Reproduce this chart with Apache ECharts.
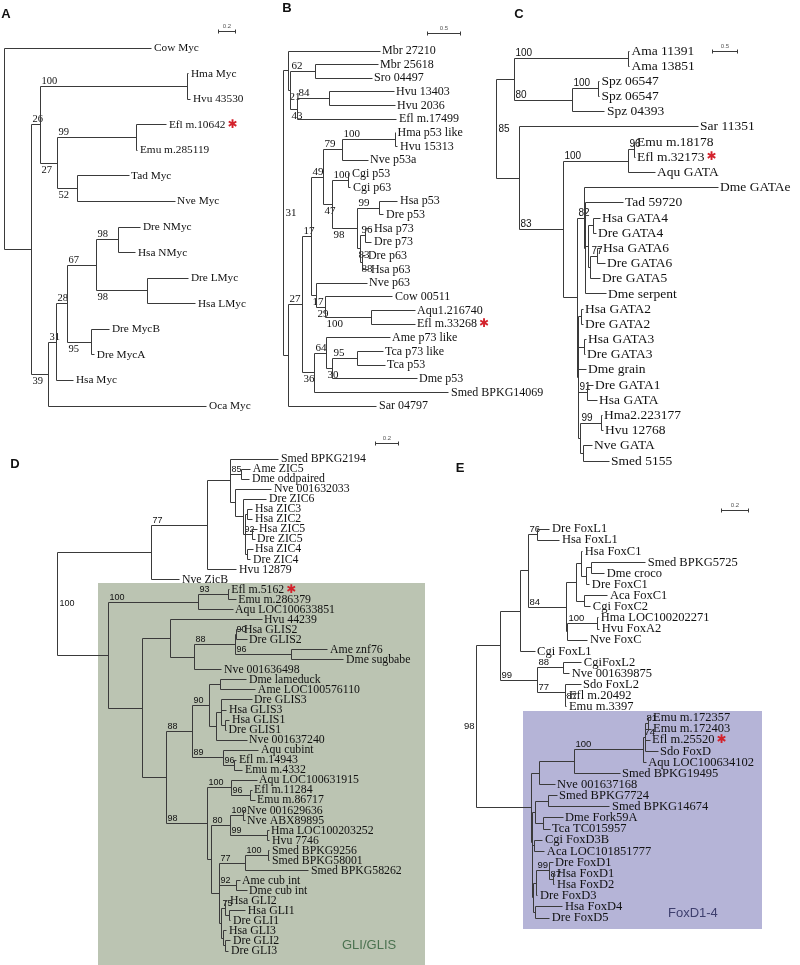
<!DOCTYPE html>
<html>
<head>
<meta charset="utf-8">
<script src="https://cdn.jsdelivr.net/npm/echarts@6/dist/echarts.min.js"></script>
<style>
html, body { margin: 0; padding: 0; background: #fff; }
#chart { width: 800px; height: 965px; }
</style>
</head>
<body>
<div id="chart"></div>
<script>
// ---- tree data (Newick, branch lengths in substitutions/site, internal labels = bootstrap) ----
// A: Myc
const treeA = '(Cow Myc:1.741,(((Hma Myc:0.012,Hvu 43530:0.035)100:1.729,((Efl m.10642*:0.353,Emu m.285119:0.012)99:0.929,(Tad Myc:0.612,Nve Myc:1.153)52:0.224)27:0.2)26:0.106,(((((Dre NMyc:0.259,Hsa NMyc:0.2)98:0.259,(Dre LMyc:0.482,Hsa LMyc:0.565)98:0.6)67:0.341,(Dre MycB:0.212,Dre MycA:0.035)95:0.282)28:0.129,Hsa Myc:0.2)31:0.094,Oca Myc:1.859)39:0.2):0.329);'

// B: p53
const p53Top = '(Mbr 27210:1.394,((Mbr 25618:0.955,Sro 04497:0.864)62:0.364,((Hvu 13403:0.97,Hvu 2036:0.985)84:0.485,Efl m.17499:1.5)43:0.106)21:0.045)'
const p53Core = '(((Hma p53 like:0.008,Hvu 15313:0.045)100:0.803,Nve p53a:0.394)79:0.273,((Cgi p53:0.015,Cgi p63:0.03)100:0.242,((Hsa p53:0.273,Dre p53:0.061)99:0.333,((Hsa p73:0.091,Dre p73:0.091)96:0.076,(Dre p63:0.045,Hsa p63:0.091)88:0.03)83:0.045)98:0.379)47:0.136)49'
const p53Mid = '(Nve p63:0.758,(Cow 00511:1.015,(Aqu1.216740:0.652,Efl m.33268*:0.652)100:0.697)29:0.136)17'
const p53Low = '((Ame p73 like:0.97,((Tca p73 like:0.394,Tca p53:0.424)95:0.379,Dme p53:1.288)30:0.091)64:0.182,Smed BPKG14069:2.045)36'
const treeB = `(${p53Top}:0.076,(((${p53Core}:0.182,${p53Mid}:0.076)17:0.136,${p53Low}:0.167)27:0.227,Sar 04797:1.348):0.076)31;`

// C: GATA
const gataOut = '((Ama 11391:0.01,Ama 13851:0.01)100:2.253,((Spz 06547:0.01,Spz 06547:0.01)100:0.514,Spz 04393:0.632)80:1.146)'
const gataA = '(Dme GATAe:2.648,(Tad 59720:0.751,((Hsa GATA4:0.138,Dre GATA4:0.059):0.099,((Hsa GATA6:0.079,Dre GATA6:0.158)77:0.138,Dre GATA5:0.198):0.04):0.059,Dme serpent:0.415):0.02)82'
const gataB = '((Hsa GATA2:0.04,Dre GATA2:0.04):0.059,(Hsa GATA3:0.04,Dre GATA3:0.02):0.119,Dme grain:0.158,(Dre GATA1:0.119,Hsa GATA:0.198)91:0.178,((Hma2.223177:0.02,Hvu 12768:0.04)99:0.415,(Nve GATA:0.178,Smed 5155:0.514):0.059):0.04)'
const treeC = `(${gataOut}:0.375,(Sar 11351:3.538,(((Emu m.18178:0.02,Efl m.32173*:0.02)96:0.119,Aqu GATA:0.534)100:1.285,(${gataA}:0.138,${gataB}:0.02):0.277)83:0.87):0.455)85;`

// D: ZIC / GLI / GLIS
const zicZ6 = '((Hsa ZIC3:0.043,Hsa ZIC2:0.043):0.017,(Hsa ZIC5:0.043,Dre ZIC5:0.026):0.052,(Hsa ZIC4:0.052,Dre ZIC4:0.034):0.009)92'
const zicClade = `(((Smed BPKG2194:0.412,(Ame ZIC5:0.077,Dme oddpaired:0.069)85:0.094,(Nve 001632033:0.309,(Dre ZIC6:0.197,${zicZ6}:0.017):0.069):0.043):0.197,Hvu 12879:0.249)77:0.481,Nve ZicB:0.24)`
const gliTop = '((Efl m.5162*:0.009,Emu m.286379:0.069)93:0.258,Aqu LOC100633851:0.3)100'
const glisA = '(Hvu 44239:0.79,(((Hsa GLIS2:0.043,Dre GLIS2:0.086)90:0.017,(Ame znf76:0.309,Dme sugbabe:0.446)96:0.489)88:0.352,Nve 001636498:0.24):0.206)'
const glisB = '(((Dme lameduck:0.223,Ame LOC100576110:0.3):0.094,((Dre GLIS3:0.258,Hsa GLIS3:0.043,(Hsa GLIS1:0.034,Dre GLIS1:0.005):0.034):0.043,Nve 001637240:0.258):0.06)90:0.146,(Aqu cubint:0.3,(Efl m.14943:0.017,Emu m.4332:0.069)96:0.094)89:0.266)88'
const gliC = '((Aqu LOC100631915:0.215,(Efl m.11284:0.017,Emu m.86717:0.043)96:0.155)100:0.206,(((Nve 001629636:0.017,Nve ABX89895:0.017)100:0.112,(Hma LOC100203252:0.009,Hvu 7746:0.017)99:0.326)80:0.155,(((Smed BPKG9256:0.009,Smed BPKG58001:0.009)100:0.197,Smed BPKG58262:0.541)77:0.223,(Ame cub int:0.026,Dme cub int:0.086)92:0.146,((Hsa GLI2:0.017,(Hsa GLI1:0.137,Dre GLI1:0.009):0.034)75:0.034,(Hsa GLI3:0.026,(Dre GLI2:0.043,Dre GLI3:0.026):0.017):0.017):0.017):0.069):0.034)98'
const treeD = `(${zicClade}:0.815,(${gliTop}:0.773,(${glisA}:0.232,(${glisB}:0.223,${gliC}:0.352):0.206):0.3):0.438)100;`

// E: Fox
const foxC = '(((Hsa FoxC1:0.007,((Smed BPKG5725:0.391,Dme croco:0.094):0.036,Dre FoxC1:0.022):0.036):0.036,(Aca FoxC1:0.167,Cgi FoxC2:0.043):0.058):0.072,((Hma LOC100202271:0.007,Hvu FoxA2:0.014)100:0.217,Nve FoxC:0.145):0.007)84'
const foxL = `(((Dre FoxL1:0.087,Hsa FoxL1:0.159)76:0.065,${foxC}:0.275):0.065,Cgi FoxL1:0.109)`
const foxL2 = '((CgiFoxL2:0.13,Nve 001639875:0.043)88:0.188,(Sdo FoxL2:0.116,(Efl m.20492:0.007,Emu m.3397:0.007)87:0.007)77:0.196)99'
const foxDa = '((((Emu m.172357:0.022,Emu m.172403:0.022)81:0.022,Efl m.25520*:0.036,Sdo FoxD:0.094)74:0.014,Aqu LOC100634102:0.022)100:0.5,Smed BPKG19495:0.333)'
const foxDb = '((Smed BPKG7724:0.065,Smed BPKG14674:0.449):0.094,(Dme Fork59A:0.145,Tca TC015957:0.051):0.058)'
const foxDc = '((Cgi FoxD3B:0.058,Aca LOC101851777:0.072):0.014,(((Dre FoxD1:0.022,(Hsa FoxD1:0.007,Hsa FoxD2:0.007)87:0.029)99:0.094,Dre FoxD3:0.007):0.022,(Hsa FoxD4:0.196,Dre FoxD5:0.101):0.014):0.007)'
const treeE = `((${foxL}:0.138,${foxL2}:0.268):0.181,((${foxDa}:0.254,Nve 001637168:0.116):0.058,(${foxDb}:0.022,${foxDc}:0.007):0.007):0.399)98;`

const trees = [treeA, treeB, treeC, treeD, treeE]
const panelLetters = ['A', 'B', 'C', 'D', 'E']
const scaleValues = [0.2, 0.5, 0.5, 0.2, 0.2]
const boxLabels = ['GLI/GLIS', 'FoxD1-4']

// ---- layout / style ----
const SERIF = '"Liberation Serif", "Times New Roman", serif'
const SANS = '"Liberation Sans", Arial, sans-serif'
const LINE = '#3a3a3a'
const layout = [
  {rootX: 4, top: 48, bottom: 406, ppu: 85, leafSize: 11.3, bootSize: 10.5, bootSans: false, mode: 'updown', rootSide: 'right', bar: [218, 31], letter: [6, 14]},
  {rootX: 283, top: 51, bottom: 406, ppu: 66, leafSize: 12, bootSize: 11, bootSans: false, mode: 'updown', rootSide: 'right', bar: [427, 33], letter: [287, 8]},
  {rootX: 496, top: 51, bottom: 461, ppu: 50.6, leafSize: 13.5, bootSize: 10, bootSans: true, mode: 'above', rootSide: 'right', bar: [712, 51], letter: [519, 14]},
  {rootX: 57, top: 459, bottom: 951, ppu: 116.5, leafSize: 11.8, bootSize: 9, bootSans: true, mode: 'above', rootSide: 'right', bar: [375, 443], letter: [15, 464]},
  {rootX: 476, top: 529, bottom: 918, ppu: 138, leafSize: 12.5, bootSize: 9.5, bootSans: true, mode: 'above', rootSide: 'left', bar: [721, 510], letter: [460, 468]}
]

function parseNewick(s) {
  let i = 0
  function node() {
    const n = {children: [], len: 0}
    if (s[i] === '(') {
      i++
      n.children.push(node())
      while (s[i] === ',') { i++; n.children.push(node()) }
      i++
    }
    let name = ''
    while (i < s.length && !',():;'.includes(s[i])) name += s[i++]
    n.name = name.trim()
    if (s[i] === ':') {
      i++
      let num = ''
      while (i < s.length && !',();'.includes(s[i])) num += s[i++]
      n.len = parseFloat(num)
    }
    return n
  }
  return node()
}

function layoutTree(root) {
  const nodes = []
  let leaves = 0
  let maxDepth = 0
  ;(function walk(n, parent) {
    n.parent = parent
    n.depth = parent ? parent.depth + n.len : 0
    maxDepth = Math.max(maxDepth, n.depth)
    nodes.push(n)
    if (!n.children.length) {
      n.y = leaves++
      n.star = n.name.endsWith('*')
      if (n.star) n.name = n.name.slice(0, -1)
    }
    n.children.forEach(c => walk(c, n))
    if (n.children.length) n.y = (n.children[0].y + n.children[n.children.length - 1].y) / 2
  })(root, null)
  return {nodes, leaves, maxDepth}
}

const crisp = v => Math.round(v - 0.5) + 0.5
const seg = (x1, y1, x2, y2) => ({type: 'line', shape: {x1, y1, x2, y2}, style: {stroke: LINE, lineWidth: 1}})

function makeRender(p, nodes, scaleValue) {
  const bootFamily = p.bootSans ? SANS : SERIF
  return function (params, api) {
    const n = nodes[params.dataIndex]
    const els = []
    const c = api.coord([n.depth, n.y])
    const x = crisp(c[0]), y = crisp(c[1])
    if (n.parent) {
      const px = crisp(api.coord([n.parent.depth, n.y])[0])
      els.push(seg(px, y, x, y))
      if (n.children.length && n.name) {
        const sib = n.parent.children
        const below = p.mode === 'updown' && sib.length > 1 && sib[sib.length - 1] === n
        els.push({type: 'text', style: {
          text: n.name, x: px + 1, y: below ? y + 1 : y,
          fontSize: p.bootSize, fontFamily: bootFamily, fill: '#111',
          align: 'left', verticalAlign: below ? 'top' : 'bottom'
        }})
      }
    } else if (n.name) {
      const left = p.rootSide === 'left'
      els.push({type: 'text', style: {
        text: n.name, x: left ? x - 2 : x + 2, y: c[1],
        fontSize: p.bootSize, fontFamily: bootFamily, fill: '#111',
        align: left ? 'right' : 'left', verticalAlign: 'middle'
      }})
    }
    if (n.children.length) {
      const a = crisp(api.coord([n.depth, n.children[0].y])[1])
      const b = crisp(api.coord([n.depth, n.children[n.children.length - 1].y])[1])
      els.push(seg(x, a, x, b))
    } else {
      const st = n.star
        ? {text: '{n|' + n.name + '}{s|\u2731}', rich: {
            n: {fontSize: p.leafSize, fontFamily: SERIF, fill: '#111'},
            s: {fontSize: 12, fontFamily: '"DejaVu Sans"', fill: '#d3222c', padding: [0, 0, 0, 2]}
          }}
        : {text: n.name, fontSize: p.leafSize, fontFamily: SERIF, fill: '#111'}
      st.x = c[0] + 2
      st.y = c[1]
      st.align = 'left'
      st.verticalAlign = 'middle'
      els.push({type: 'text', style: st})
    }
    if (params.dataIndex === 0) {
      // scale bar, length from the axis scale
      const len = api.size([scaleValue, 0])[0]
      const bx = crisp(p.bar[0]), by = crisp(p.bar[1]), ex = crisp(p.bar[0] + len)
      els.push(seg(bx, by, ex, by), seg(bx, by - 2, bx, by + 2), seg(ex, by - 2, ex, by + 2))
      els.push({type: 'text', style: {
        text: String(scaleValue), x: (bx + ex) / 2, y: by - 2,
        fontSize: 6, fontFamily: SANS, fill: '#555', align: 'center', verticalAlign: 'bottom'
      }})
    }
    return {type: 'group', children: els}
  }
}

const chart = echarts.init(document.getElementById('chart'))
const built = trees.map(t => layoutTree(parseNewick(t)))

const option = {
  animation: false,
  grid: layout.map((p, i) => ({
    left: p.rootX, top: p.top,
    width: built[i].maxDepth * p.ppu, height: p.bottom - p.top
  })),
  xAxis: layout.map((p, i) => ({type: 'value', gridIndex: i, min: 0, max: built[i].maxDepth, show: false})),
  yAxis: layout.map((p, i) => ({type: 'value', gridIndex: i, min: 0, max: built[i].leaves - 1, inverse: true, show: false})),
  graphic: [
    {type: 'rect', z: 0, shape: {x: 98, y: 583, width: 327, height: 382}, style: {fill: '#bbc4b2'}},
    {type: 'rect', z: 0, shape: {x: 523, y: 711, width: 239, height: 218}, style: {fill: '#b5b4d7'}},
    {type: 'text', z: 1, style: {text: boxLabels[0], x: 342, y: 945, fontSize: 13, fontFamily: SANS, fill: '#4b7250', verticalAlign: 'middle'}},
    {type: 'text', z: 1, style: {text: boxLabels[1], x: 668, y: 913, fontSize: 13, fontFamily: SANS, fill: '#3e3f6e', verticalAlign: 'middle'}}
  ].concat(layout.map((p, i) => ({
    type: 'text', z: 1,
    style: {text: panelLetters[i], x: p.letter[0], y: p.letter[1], fontSize: 13, fontWeight: 'bold', fontFamily: SANS, fill: '#111', align: 'center', verticalAlign: 'middle'}
  }))),
  series: layout.map((p, i) => ({
    type: 'custom',
    xAxisIndex: i,
    yAxisIndex: i,
    silent: true,
    clip: false,
    encode: {x: 0, y: 1},
    data: built[i].nodes.map(n => [n.depth, n.y]),
    renderItem: makeRender(p, built[i].nodes, scaleValues[i])
  }))
}

chart.setOption(option)
</script>
</body>
</html>
